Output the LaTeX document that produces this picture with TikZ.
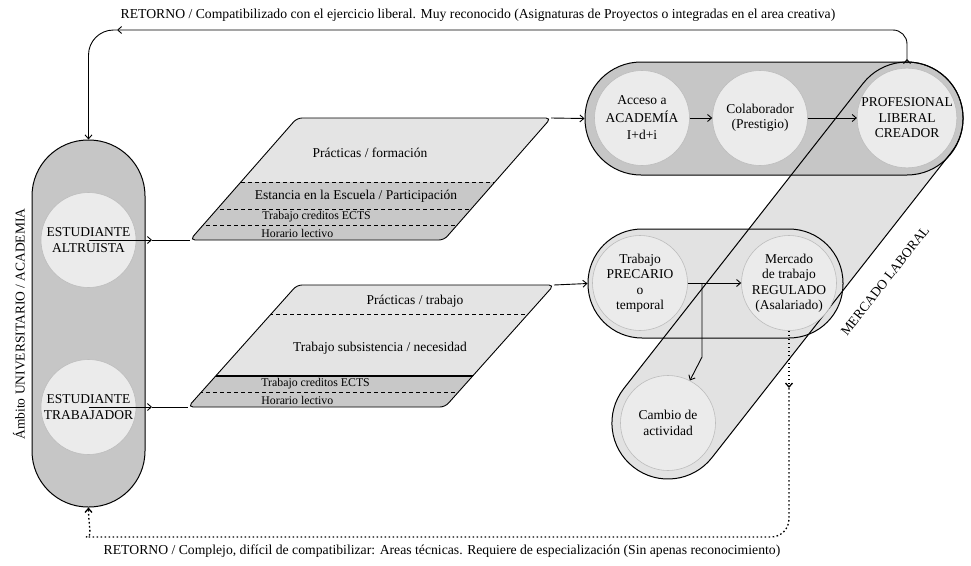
\documentclass[tikz,border=0pt]{standalone}
\usepackage{fontspec}
\setmainfont{Liberation Serif}
\usetikzlibrary{arrows.meta,decorations.markings}
\definecolor{pilldark}{HTML}{C6C6C6}
\definecolor{pilllight}{HTML}{E2E2E2}
\definecolor{circfill}{HTML}{EBEBEB}
\definecolor{circline}{HTML}{BDBDBD}
\definecolor{pgdark}{HTML}{C8C8C8}
\definecolor{pglight}{HTML}{E4E4E4}
\begin{document}
\begin{tikzpicture}[x=1pt,y=-1pt,
  >={Straight Barb[length=4pt,width=7pt]},
  line width=0.8pt,
  txt/.style={font=\fontsize{13.5}{15.5}\selectfont, align=center},
  titletxt/.style={font=\fontsize{13.7}{15.5}\selectfont},
  smalltxt/.style={font=\fontsize{11.8}{13}\selectfont, anchor=west, inner sep=0pt},
  bubble/.style={circle, minimum size=95pt, inner sep=0pt, fill=circfill, draw=circline, line width=0.6pt, txt},
  pillbox/.style={draw=black, line width=1pt, inner sep=0pt},
  conn/.style={->, line width=0.9pt},
  retline/.style={line width=0.9pt},
  dotline/.style={line width=1.3pt, dash pattern=on 1.6pt off 2.4pt},
  dline/.style={dash pattern=on 4pt off 3pt, line width=0.9pt},
  upmark/.style={postaction={decorate}, decoration={markings, mark=at position 4pt with {\arrow{Straight Barb[length=4pt,width=7pt]}}}}
]
\useasboundingbox (0,0) rectangle (971,565);

% ---------- band MERCADO LABORAL (fill) ----------
\node[pillbox, draw=none, fill=pilllight, minimum width=499.5pt, minimum height=112pt,
      rounded corners=55.9pt, rotate=51.9] (band) at (787.5,270.5) {};

% ---------- pills ----------
\node[pillbox, fill=pilldark, minimum width=113pt, minimum height=367pt, rounded corners=56pt] (lpill) at (88.5,323.5) {};
\node[pillbox, fill=pilldark, minimum width=378pt, minimum height=113pt, rounded corners=56pt] (tpill) at (774,118.5) {};
\node[pillbox, fill=pilllight, minimum width=255pt, minimum height=109pt, rounded corners=54pt] (bpill) at (715.5,283.5) {};

% band outline on top
\node[pillbox, minimum width=499.5pt, minimum height=112pt,
      rounded corners=55.9pt, rotate=51.9] (bandline) at (787.5,270.5) {};

\node[txt, rotate=52] (ml) at (885,281) {MERCADO LABORAL};
\node[txt, rotate=90] (amb) at (19,324) {Ámbito UNIVERSITARIO / ACADEMIA};

% ---------- parallelograms ----------
\coordinate (u1) at (190,240);
\coordinate (u2) at (297,118);
\coordinate (u3) at (551,118);
\coordinate (u4) at (444,240);
\path[fill=pglight, rounded corners=5pt] (u1) -- (u2) -- (u3) -- (u4) -- cycle;
\begin{scope}
  \clip[rounded corners=5pt] (u1) -- (u2) -- (u3) -- (u4) -- cycle;
  \fill[pgdark] (150,182) rectangle (600,245);
  \draw[dline] (150,182) -- (600,182);
  \draw[dline] (150,209) -- (600,209);
  \draw[dline] (150,225) -- (600,225);
\end{scope}
\draw[rounded corners=5pt, line width=0.9pt] (u1) -- (u2) -- (u3) -- (u4) -- cycle;

\coordinate (l1) at (188,407);
\coordinate (l2) at (297,285);
\coordinate (l3) at (554,285);
\coordinate (l4) at (445,407);
\path[fill=pglight, rounded corners=5pt] (l1) -- (l2) -- (l3) -- (l4) -- cycle;
\begin{scope}
  \clip[rounded corners=5pt] (l1) -- (l2) -- (l3) -- (l4) -- cycle;
  \fill[pgdark] (150,376) rectangle (600,412);
  \draw[dline] (150,314) -- (600,314);
  \draw[line width=1.3pt] (150,376) -- (600,376);
  \draw[dline] (150,392) -- (600,392);
\end{scope}
\draw[rounded corners=5pt, line width=0.9pt] (l1) -- (l2) -- (l3) -- (l4) -- cycle;

\node[txt] (p1) at (370,153) {Prácticas / formación};
\node[txt] (p2) at (356,196) {Estancia en la Escuela / Participación};
\node[smalltxt] (p3) at (262,217) {Trabajo creditos ECTS};
\node[smalltxt] (p4) at (261,233) {Horario lectivo};
\node[txt] (q1) at (415,301) {Prácticas / trabajo};
\node[txt] (q2) at (380,348) {Trabajo subsistencia / necesidad};
\node[smalltxt] (q3) at (261,384) {Trabajo creditos ECTS};
\node[smalltxt] (q4) at (261,400) {Horario lectivo};

% ---------- circles ----------
\node[bubble] (altru) at (88.5,240) {ESTUDIANTE\\ALTRUISTA};
\node[bubble] (trab) at (88.5,407) {ESTUDIANTE\\TRABAJADOR};
\node[bubble, font=\fontsize{13.5}{17.5}\selectfont] (acc) at (642,118) {Acceso a\\ACADEMÍA\\I+d+i};
\node[bubble] (col) at (760,118) {Colaborador\\(Prestigio)};
\node[bubble] (prof) at (907,118) {PROFESIONAL\\LIBERAL\\CREADOR};
\node[bubble] (prec) at (640,283) {Trabajo\\PRECARIO\\o\\temporal};
\node[bubble] (merc) at (789,283) {Mercado\\de trabajo\\REGULADO\\(Asalariado)};
\node[bubble] (camb) at (668,423) {Cambio de\\actividad};

% ---------- connectors ----------
\coordinate (ae) at (152,240);
\coordinate (te) at (152,407);
\draw[conn] (altru.center) -- (ae);
\draw[line width=0.9pt] (ae) -- (u1);
\draw[conn] (trab.center) -- (te);
\draw[line width=0.9pt] (te) -- (l1);
\draw[conn] (u3) -- (tpill.west);
\draw[conn] (l3) -- (bpill.west);
\draw[conn] (acc) -- (col);
\draw[conn] (col) -- (prof);
\draw[conn] (prec) -- (merc);
\coordinate (br) at (702,283);
\coordinate (brk) at (702,357);
\draw[conn] (br) -- (brk) -- (camb);

% top return
\coordinate (rs) at (907,63);
\coordinate (rc) at (907,30);
\coordinate (rl) at (117,30);
\coordinate (rk) at (88.5,30);
\draw[retline, ->, rounded corners=14pt, upmark] (rs) -- (rc) -- (rl);
\draw[retline, ->, rounded corners=25pt] (rl) -- (rk) -- (lpill.north);

% bottom return (dotted)
\coordinate (dm) at (789,388);
\coordinate (dc) at (789,537);
\coordinate (dl) at (104,537);
\draw[dotline, ->] (merc.south) -- (dm);
\draw[dotline, ->, rounded corners=18pt] (dm) -- (dc) -- (dl) .. controls (93,537) and (88.5,528) .. (lpill.south);

% ---------- titles ----------
\node[titletxt] (t1) at (478,15) {RETORNO / Compatibilizado con el ejercicio liberal. Muy reconocido (Asignaturas de Proyectos o integradas en el area creativa)};
\node[titletxt] (t2) at (442,551) {RETORNO / Complejo, difícil de compatibilizar: Areas técnicas. Requiere de especialización (Sin apenas reconocimiento)};
\end{tikzpicture}
\end{document}
